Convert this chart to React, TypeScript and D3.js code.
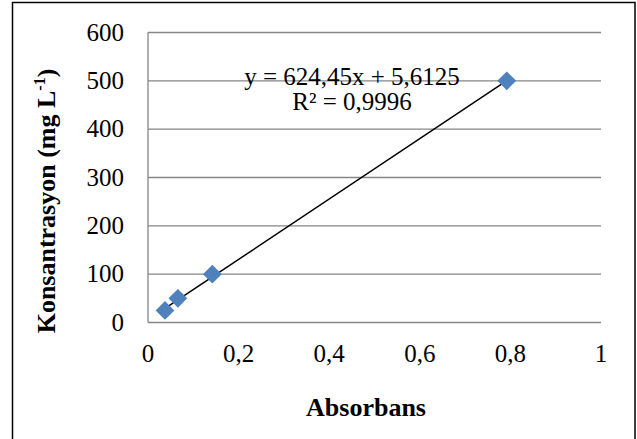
import React from 'react';
import * as d3 from 'd3';

const absorbans = [0.0375, 0.066, 0.142, 0.792];
const konsantrasyon = [25, 50, 100, 500];
const xTicks = [0, 0.2, 0.4, 0.6, 0.8, 1];
const yTicks = [0, 100, 200, 300, 400, 500, 600];
const slope = 624.45;
const intercept = 5.6125;
const equationText = 'y = 624,45x + 5,6125';
const r2Text = 'R² = 0,9996';

const App = () => {
    const width = 637;
    const height = 439;
    const plot = { left: 148, right: 601, top: 32.5, bottom: 322.5 };
    const font = '"Liberation Serif", "Times New Roman", serif';
    const fs = 25;
    const titleFs = 26;

    const xScale = d3.scaleLinear().domain([0, 1]).range([plot.left, plot.right]);
    const yScale = d3.scaleLinear().domain([0, 600]).range([plot.bottom, plot.top]);

    const points = absorbans.map((x, i) => ({ x, y: konsantrasyon[i] }));

    const xMin = d3.min(absorbans);
    const xMax = d3.max(absorbans);
    const trend = d3.line()
        .x(d => xScale(d[0]))
        .y(d => yScale(d[1]));
    const trendData = [xMin, xMax].map(x => [x, slope * x + intercept]);

    const diamond = d3.symbol().type(d3.symbolDiamond2).size(225);

    const fmt = v => (v === 0 || v === 1 ? String(v) : String(v).replace('.', ','));

    return (
        <svg
            width={width}
            height={height}
            style={{ position: 'absolute', left: 0, top: 0 }}
        >
            <rect x={0} y={0} width={width} height={height} fill="#fff" />
            {/* outer chart border */}
            <rect x={12.5} y={2.5} width={622.5} height={445} fill="none" stroke="#000" strokeWidth={1.5} />

            {/* gridlines */}
            {yTicks.map(t => (
                <line
                    key={t}
                    x1={plot.left}
                    x2={plot.right}
                    y1={yScale(t)}
                    y2={yScale(t)}
                    stroke="#868686"
                    strokeWidth={1.3}
                />
            ))}
            <line x1={plot.left} x2={plot.left} y1={plot.top} y2={plot.bottom} stroke="#868686" strokeWidth={1.3} />

            {/* y tick labels */}
            {yTicks.map(t => (
                <text
                    key={t}
                    x={124}
                    y={yScale(t) + 8}
                    textAnchor="end"
                    fontFamily={font}
                    fontSize={fs}
                    fill="#000"
                >
                    {t}
                </text>
            ))}

            {/* x tick labels */}
            {xTicks.map(t => (
                <text
                    key={t}
                    x={xScale(t)}
                    y={362}
                    textAnchor="middle"
                    fontFamily={font}
                    fontSize={fs}
                    fill="#000"
                >
                    {fmt(t)}
                </text>
            ))}

            {/* trendline */}
            <path d={trend(trendData)} fill="none" stroke="#000" strokeWidth={1.5} />

            {/* points */}
            {points.map((p, i) => (
                <path
                    key={i}
                    d={diamond()}
                    transform={`translate(${xScale(p.x)},${yScale(p.y)})`}
                    fill="#4F81BD"
                />
            ))}

            {/* equation */}
            <text x={352} y={85} textAnchor="middle" fontFamily={font} fontSize={fs} fill="#000">
                {equationText}
            </text>
            <text x={352} y={110} textAnchor="middle" fontFamily={font} fontSize={fs} fill="#000">
                {r2Text}
            </text>

            {/* axis titles */}
            <text
                x={366}
                y={416}
                textAnchor="middle"
                fontFamily={font}
                fontSize={titleFs}
                fontWeight="bold"
                fill="#000"
            >
                Absorbans
            </text>
            <text
                transform={`translate(55,201) rotate(-90)`}
                textAnchor="middle"
                fontFamily={font}
                fontSize={titleFs}
                fontWeight="bold"
                fill="#000"
            >
                Konsantrasyon (mg L
                <tspan fontSize={16} dy={-10}>-1</tspan>
                <tspan dy={10}>)</tspan>
            </text>
        </svg>
    );
};

export default App;
